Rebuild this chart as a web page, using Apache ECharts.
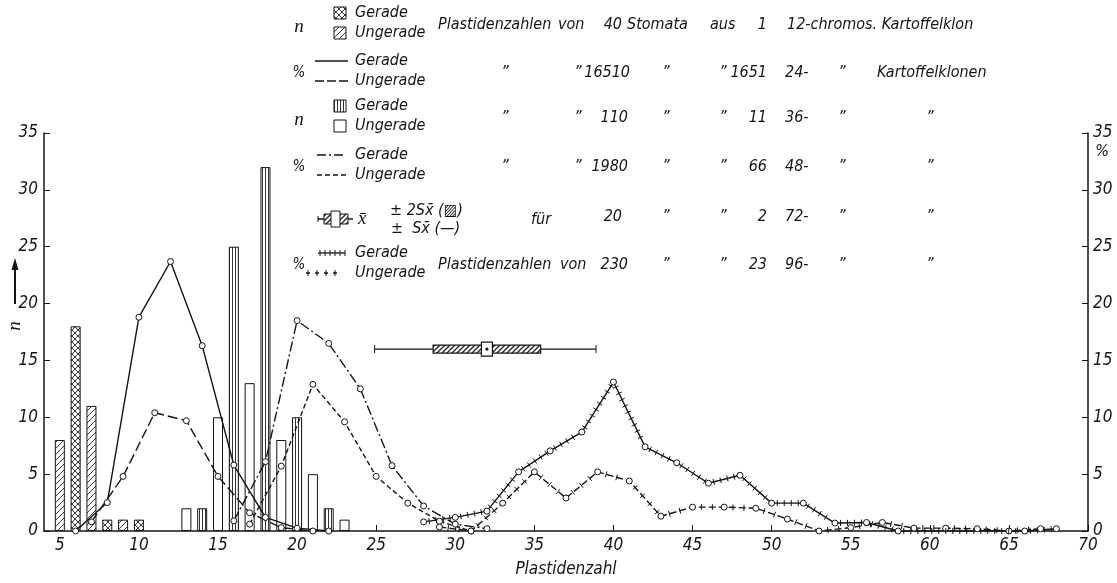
<!DOCTYPE html>
<html><head><meta charset="utf-8">
<script src="https://cdn.jsdelivr.net/npm/echarts@6/dist/echarts.min.js"></script>
<style>html,body{margin:0;padding:0;background:#fff}#c{width:1117px;height:583px}</style>
</head><body><div id="c"></div>
<script>
// ================= DATA =================
const xTickValues = [5,10,15,20,25,30,35,40,45,50,55,60,65,70];

// n: 40 stomata of one 12-chromosome clone
const n12GeradeX = [6, 8, 10];
const n12GeradeY = [18, 1, 1];
const n12UngeradeX = [5, 7, 9];
const n12UngeradeY = [8, 11, 1];

// n: 110 stomata of 11 36-chromosome clones
const n36GeradeX = [14, 16, 18, 20, 22];
const n36GeradeY = [2, 25, 32, 10, 2];
const n36UngeradeX = [13, 15, 17, 19, 21, 23];
const n36UngeradeY = [2, 10, 13, 8, 5, 1];

// %: 16510 stomata of 1651 24-chromosome clones
const p24GeradeX = [6, 8, 10, 12, 14, 16, 18, 20, 22];
const p24GeradeY = [0, 2.5, 18.8, 23.7, 16.3, 5.8, 1.2, 0.25, 0];
const p24UngeradeX = [7, 9, 11, 13, 15, 17, 19, 21];
const p24UngeradeY = [0.8, 4.8, 10.4, 9.7, 4.8, 1.6, 0.3, 0];

// %: 1980 stomata of 66 48-chromosome clones
const p48GeradeX = [16, 18, 20, 22, 24, 26, 28, 30, 32];
const p48GeradeY = [0.9, 6.1, 18.5, 16.5, 12.5, 5.75, 2.2, 0.6, 0.2];
const p48UngeradeX = [17, 19, 21, 23, 25, 27, 29, 31];
const p48UngeradeY = [0.6, 5.7, 12.9, 9.6, 4.8, 2.45, 0.85, 0];

// %: 230 stomata of 23 96-chromosome clones
const p96GeradeX = [28, 30, 32, 34, 36, 38, 40, 42, 44, 46, 48, 50, 52, 54, 56, 58, 60, 62, 64, 66, 68];
const p96GeradeY = [0.8, 1.2, 1.75, 5.2, 7.05, 8.7, 13.1, 7.4, 6.0, 4.2, 4.9, 2.45, 2.45, 0.7, 0.75, 0, null, null, null, 0, 0.2];
const p96UngeradeX = [29, 31, 33, 35, 37, 39, 41, 43, 45, 47, 49, 51, 53, 55, 57, 59, 61, 63, 65, 67];
const p96UngeradeY = [0.35, 0, 2.45, 5.2, 2.9, 5.2, 4.4, 1.3, 2.1, 2.1, 2.0, 1.05, 0, 0.3, 0.75, 0.25, 0.25, 0.2, 0, 0.2];

// 20 stomata of 2 72-chromosome clones: mean, ±2S (hatched), whiskers
const m72Mean = 32.0;
const m72BoxLo = 28.6, m72BoxHi = 35.4;
const m72WhiskLo = 24.9, m72WhiskHi = 38.9;
const m72Level = 16;

// ================= STYLE HELPERS =================
const FONT = '"Liberation Sans Narrow", "DejaVu Sans Condensed", "Arial Narrow", sans-serif';
const INK = '#141414';

function makePattern(kind) {
  const c = document.createElement('canvas');
  let w = 6, h = 6;
  if (kind === 'vert') { w = 3; h = 4; }
  if (kind === 'box') { w = 5; h = 5; }
  c.width = w; c.height = h;
  const g = c.getContext('2d');
  g.fillStyle = '#fff'; g.fillRect(0, 0, w, h);
  g.strokeStyle = '#222';
  g.lineWidth = kind === 'box' ? 1.3 : 0.9;
  function seg(x1, y1, x2, y2) { g.beginPath(); g.moveTo(x1, y1); g.lineTo(x2, y2); g.stroke(); }
  if (kind === 'diag' || kind === 'cross' || kind === 'box') {
    seg(-1, h + 1, w + 1, -1); seg(-1, 1, 1, -1); seg(w - 1, h + 1, w + 1, h - 1);
  }
  if (kind === 'cross') {
    seg(-1, -1, w + 1, h + 1); seg(w - 1, -1, w + 1, 1); seg(-1, h - 1, 1, h + 1);
  }
  if (kind === 'vert') { g.fillStyle = '#333'; g.fillRect(1, 0, 1, h); }
  return c;
}
const patCross = { image: makePattern('cross'), repeat: 'repeat' };
const patDiag = { image: makePattern('diag'), repeat: 'repeat' };
const patVert = { image: makePattern('vert'), repeat: 'repeat' };
const patBox = { image: makePattern('box'), repeat: 'repeat' };

function pairs(xs, ys) { return xs.map((x, i) => [x, ys[i]]); }

function barSeries(name, xs, ys, fill) {
  return {
    type: 'bar', name, xAxisIndex: 0, yAxisIndex: 0, data: pairs(xs, ys),
    barWidth: 10, barGap: '-100%', z: 1, silent: true,
    itemStyle: { color: fill, borderColor: INK, borderWidth: 1 }
  };
}
function lineSeries(name, xs, ys, dash) {
  return {
    type: 'line', name, xAxisIndex: 0, yAxisIndex: 1, data: pairs(xs, ys),
    connectNulls: true, symbol: 'circle', symbolSize: 6, showSymbol: true, silent: true,
    itemStyle: { color: '#fff', borderColor: INK, borderWidth: 1 },
    lineStyle: { color: INK, width: 1.4, type: dash }, z: 3
  };
}
function tickMarks(xs, ys, step, half) {
  const data = pairs(xs, ys).filter(d => d[1] !== null);
  return {
    type: 'custom', xAxisIndex: 0, yAxisIndex: 1, z: 4, silent: true, data,
    encode: { x: 0, y: 1 },
    renderItem: function (params, api) {
      const i = params.dataIndex;
      if (i >= data.length - 1) return null;
      const a = api.coord(data[i]), b = api.coord(data[i + 1]);
      const dx = b[0] - a[0], dy = b[1] - a[1], L = Math.hypot(dx, dy);
      if (L < 8) return null;
      const ux = dx / L, uy = dy / L, px = -uy, py = ux;
      const children = [];
      for (let s = step * 0.8; s < L - 4; s += step) {
        const cx = a[0] + ux * s, cy = a[1] + uy * s;
        children.push({ type: 'line', shape: { x1: cx - px * half, y1: cy - py * half, x2: cx + px * half, y2: cy + py * half },
          style: { stroke: INK, lineWidth: 1 } });
      }
      return { type: 'group', children };
    }
  };
}

// ================= LEGEND GRAPHICS =================
const rowY = [25, 73, 118, 167, 217, 265];
const G = [];
const TXT = 16;
function T(text, x, y, align, size, extra) {
  G.push(Object.assign({ type: 'text', x, y, silent: true, style: {
    text, fill: INK, font: 'italic ' + (size || TXT) + 'px ' + FONT,
    textAlign: align || 'left', textVerticalAlign: 'middle', align: align || 'left', verticalAlign: 'middle'
  } }, extra || {}));
}
function L(x1, y1, x2, y2, dash, w) {
  G.push({ type: 'line', silent: true, shape: { x1, y1, x2, y2 }, style: { stroke: INK, lineWidth: w || 1.3, lineDash: dash || null } });
}
function R(x, y, w, h, fill) {
  G.push({ type: 'rect', silent: true, shape: { x, y, width: w, height: h }, style: { fill, stroke: INK, lineWidth: 1 } });
}
function ticksOn(x1, x2, y, step) { for (let x = x1 + 2; x <= x2; x += step) L(x, y - 3, x, y + 3, null, 1); }

const symX = 299, swX = 334, txtX = 355;
const SERIF = 'italic 19px "Liberation Serif", "DejaVu Serif", serif';
function symLabel(s, y) {
  G.push({ type: 'text', x: symX, y, silent: true, style: { text: s, fill: INK,
    font: s === 'n' ? SERIF : 'italic 15px ' + FONT, textAlign: 'center', textVerticalAlign: 'middle', align: 'center', verticalAlign: 'middle' } });
}
rowY.forEach((ty, k) => {
  const gy = ty - 12, uy = ty + 8;
  if (k === 0) { symLabel('n', ty + 2); R(swX, gy - 6, 12, 12, patCross); R(swX, uy - 6, 12, 12, patDiag); }
  if (k === 1) { symLabel('%', ty); L(315, gy, 348, gy); L(315, uy, 348, uy, [9, 3]); }
  if (k === 2) { symLabel('n', ty + 2); R(swX, gy - 6, 12, 12, patVert); R(swX, uy - 6, 12, 12, '#fff'); }
  if (k === 3) { symLabel('%', ty); L(317, gy, 346, gy, [9, 3, 2, 3]); L(317, uy, 346, uy, [5, 3]); }
  if (k === 5) { symLabel('%', ty); L(318, gy, 345, gy); ticksOn(318, 345, gy, 5); L(306, uy, 342, uy, [4, 5]); ticksOn(306, 342, uy, 9); }
  if (k === 4) {
    const cy = ty + 2;
    L(318, cy, 353, cy); L(318, cy - 3, 318, cy + 3, null, 1);
    R(324, cy - 5, 24, 10, patBox); R(331, cy - 8, 9, 16, '#fff');
    T('x\u0304', 358, cy, 'left', 19, { style: { text: 'x\u0304', fill: INK, font: SERIF, textVerticalAlign: 'middle', verticalAlign: 'middle' } });
    T('\u00b1 2Sx\u0304 (\u25a8)', 390, ty - 6, 'left');
    T('\u00b1  Sx\u0304 (\u2014)', 391, ty + 12, 'left');
  } else {
    T('Gerade', txtX, gy, 'left');
    T('Ungerade', txtX, uy, 'left');
  }
});
const D = '\u201d';
const rightRows = [
  [['Plastidenzahlen', 438, 'left'], ['von', 558, 'left'], ['40', 622, 'right'], ['Stomata', 627, 'left'], ['aus', 710, 'left'], ['1', 767, 'right'], ['12-chromos. Kartoffelklon', 787, 'left']],
  [[D, 505, 'center'], [D, 578, 'center'], ['16510', 630, 'right'], [D, 666, 'center'], [D, 723, 'center'], ['1651', 767, 'right'], ['24-', 785, 'left'], [D, 842, 'center'], ['Kartoffelklonen', 877, 'left']],
  [[D, 505, 'center'], [D, 578, 'center'], ['110', 628, 'right'], [D, 666, 'center'], [D, 723, 'center'], ['11', 767, 'right'], ['36-', 785, 'left'], [D, 842, 'center'], [D, 930, 'center']],
  [[D, 505, 'center'], [D, 578, 'center'], ['1980', 628, 'right'], [D, 666, 'center'], [D, 723, 'center'], ['66', 767, 'right'], ['48-', 785, 'left'], [D, 842, 'center'], [D, 930, 'center']],
  [['für', 541, 'center'], ['20', 622, 'right'], [D, 666, 'center'], [D, 723, 'center'], ['2', 767, 'right'], ['72-', 785, 'left'], [D, 842, 'center'], [D, 930, 'center']],
  [['Plastidenzahlen', 438, 'left'], ['von', 560, 'left'], ['230', 628, 'right'], [D, 666, 'center'], [D, 723, 'center'], ['23', 767, 'right'], ['96-', 785, 'left'], [D, 842, 'center'], [D, 930, 'center']]
];
rightRows.forEach((row, k) => row.forEach(c => T(c[0], c[1], rowY[k] + (c[0] === 'für' ? 3 : 0), c[2])));

// left "n" with arrow, right "%"
L(15, 304, 15, 268, null, 2);
G.push({ type: 'polygon', silent: true, shape: { points: [[15, 258], [11.5, 270], [18.5, 270]] }, style: { fill: INK } });
G.push({ type: 'text', x: 15, y: 326, rotation: Math.PI / 2, silent: true, style: { text: 'n', fill: INK, font: SERIF, textAlign: 'center', textVerticalAlign: 'middle', align: 'center', verticalAlign: 'middle' } });
T('%', 1102, 152, 'center', 16);

// ================= CHART =================
const axisFont = { fontFamily: FONT, fontStyle: 'italic', fontSize: 17, color: INK };
const chart = echarts.init(document.getElementById('c'), null, { renderer: 'canvas' });
chart.setOption({
  animation: false,
  backgroundColor: '#fff',
  grid: { left: 44, right: 29, top: 133, bottom: 50 },
  xAxis: {
    type: 'value', min: 4, max: 70,
    name: 'Plastidenzahl', nameLocation: 'middle', nameGap: 30,
    nameTextStyle: { fontFamily: FONT, fontStyle: 'italic', fontSize: 17, color: INK },
    axisLine: { show: true, lineStyle: { color: INK, width: 1.5 } },
    axisTick: { show: true, inside: true, length: 6, customValues: xTickValues, lineStyle: { color: INK, width: 1 } },
    axisLabel: Object.assign({ customValues: xTickValues, margin: 6 }, axisFont),
    splitLine: { show: false }
  },
  yAxis: [
    { type: 'value', min: 0, max: 35, interval: 5, position: 'left',
      axisLine: { show: true, lineStyle: { color: INK, width: 1.5 } },
      axisTick: { show: true, inside: true, length: 6, lineStyle: { color: INK } },
      axisLabel: Object.assign({ margin: 6 }, axisFont), splitLine: { show: false } },
    { type: 'value', min: 0, max: 35, interval: 5, position: 'right',
      axisLine: { show: true, lineStyle: { color: INK, width: 1.5 } },
      axisTick: { show: true, inside: true, length: 6, lineStyle: { color: INK } },
      axisLabel: Object.assign({ margin: 5 }, axisFont), splitLine: { show: false } }
  ],
  series: [
    barSeries('n 12 Gerade', n12GeradeX, n12GeradeY, patCross),
    barSeries('n 12 Ungerade', n12UngeradeX, n12UngeradeY, patDiag),
    barSeries('n 36 Gerade', n36GeradeX, n36GeradeY, patVert),
    barSeries('n 36 Ungerade', n36UngeradeX, n36UngeradeY, '#fff'),
    lineSeries('% 24 Gerade', p24GeradeX, p24GeradeY, 'solid'),
    lineSeries('% 24 Ungerade', p24UngeradeX, p24UngeradeY, [10, 4]),
    lineSeries('% 48 Gerade', p48GeradeX, p48GeradeY, [10, 3, 2, 3]),
    lineSeries('% 48 Ungerade', p48UngeradeX, p48UngeradeY, [5, 3]),
    lineSeries('% 96 Gerade', p96GeradeX, p96GeradeY, 'solid'),
    lineSeries('% 96 Ungerade', p96UngeradeX, p96UngeradeY, [7, 3]),
    tickMarks(p96GeradeX, p96GeradeY, 7, 3),
    tickMarks(p96UngeradeX, p96UngeradeY, 11, 3),
    {
      type: 'custom', name: 'x̄ 72', xAxisIndex: 0, yAxisIndex: 0, z: 5, silent: true,
      data: [[m72Mean, m72BoxLo, m72BoxHi, m72WhiskLo, m72WhiskHi, m72Level]],
      encode: { x: [0, 1, 2, 3, 4], y: 5 },
      renderItem: function (params, api) {
        const y = api.coord([api.value(0), api.value(5)])[1];
        const X = v => api.coord([v, 0])[0];
        const xm = X(api.value(0)), b0 = X(api.value(1)), b1 = X(api.value(2)), w0 = X(api.value(3)), w1 = X(api.value(4));
        return { type: 'group', children: [
          { type: 'line', shape: { x1: w0, y1: y, x2: w1, y2: y }, style: { stroke: INK, lineWidth: 1.2 } },
          { type: 'line', shape: { x1: w0, y1: y - 4, x2: w0, y2: y + 4 }, style: { stroke: INK, lineWidth: 1 } },
          { type: 'line', shape: { x1: w1, y1: y - 4, x2: w1, y2: y + 4 }, style: { stroke: INK, lineWidth: 1 } },
          { type: 'rect', shape: { x: b0, y: y - 4, width: b1 - b0, height: 8 }, style: { fill: patBox, stroke: INK, lineWidth: 1.2 } },
          { type: 'rect', shape: { x: xm - 5.5, y: y - 7, width: 11, height: 14 }, style: { fill: '#fff', stroke: INK, lineWidth: 1.2 } },
          { type: 'circle', shape: { cx: xm, cy: y, r: 1.6 }, style: { fill: INK } }
        ] };
      }
    }
  ],
  graphic: { elements: G }
});
</script>
</body></html>
